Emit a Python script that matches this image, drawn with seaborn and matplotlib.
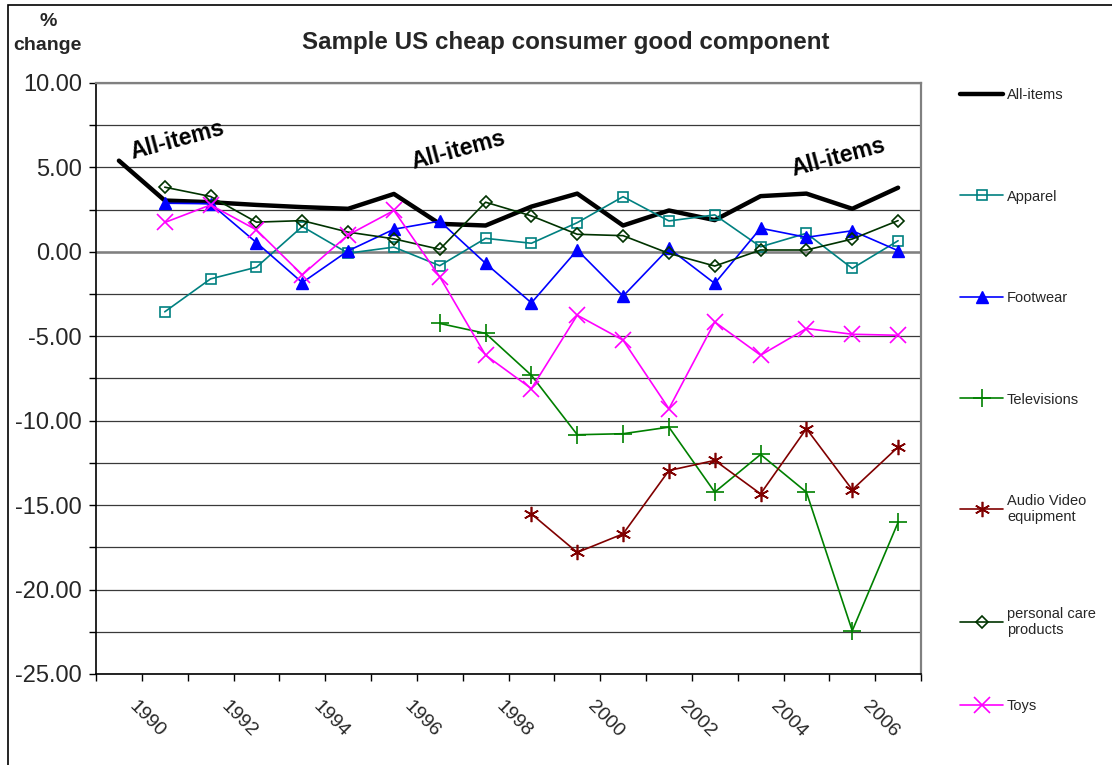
import numpy as np
import pandas as pd
import matplotlib
matplotlib.use("Agg")
import matplotlib.pyplot as plt
import seaborn as sns
from matplotlib.ticker import MultipleLocator, FormatStrFormatter, NullFormatter
from matplotlib.transforms import ScaledTranslation
from matplotlib.patches import Rectangle

# ---------------- data ----------------
years = list(range(1990, 2008))
nan = np.nan
all_items = [5.40, 3.04, 2.94, 2.78, 2.65, 2.55, 3.43, 1.66, 1.56, 2.68,
             3.45, 1.56, 2.45, 1.88, 3.30, 3.45, 2.55, 3.80]
apparel = [nan, -3.55, -1.60, -0.91, 1.50, -0.08, 0.28, -0.82, 0.80, 0.51,
           1.73, 3.27, 1.83, 2.19, 0.30, 1.10, -0.98, 0.66]
footwear = [nan, 2.88, 2.85, 0.55, -1.82, 0.06, 1.34, 1.82, -0.68, -3.02,
            0.11, -2.62, 0.21, -1.87, 1.40, 0.86, 1.25, 0.07]
televisions = [nan, nan, nan, nan, nan, nan, nan, -4.24, -4.83, -7.31,
               -10.83, -10.77, -10.38, -14.23, -12.00, -14.23, -22.44, -16.02]
audio_video = [nan, nan, nan, nan, nan, nan, nan, nan, nan, -15.52,
               -17.80, -16.70, -12.95, -12.35, -14.33, -10.47, -14.09, -11.56]
personal_care = [nan, 3.83, 3.28, 1.76, 1.85, 1.17, 0.77, 0.15, 2.94, 2.13,
                 1.04, 0.96, -0.09, -0.84, 0.11, 0.11, 0.76, 1.85]
toys = [nan, 1.74, 2.78, 1.30, -1.36, 1.00, 2.45, -1.48, -6.12, -8.10,
        -3.75, -5.23, -9.29, -4.15, -6.12, -4.54, -4.88, -4.94]

series_names = ["All-items", "Apparel", "Footwear", "Televisions",
                "Audio Video\nequipment", "personal care\nproducts", "Toys"]
label_years = list(range(1990, 2007, 2))
title = "Sample US cheap consumer good component"

# ---------------- style ----------------
sns.set_theme(style="white")
plt.rcParams["font.family"] = ["Liberation Sans", "DejaVu Sans"]
plt.rcParams["axes.unicode_minus"] = False

W, H = 1112, 765
fig = plt.figure(figsize=(W / 100, H / 100), dpi=100)
ax = fig.add_axes([96 / W, 1 - 674 / H, (921 - 96) / W, (674 - 83) / H])

specs = [
    (all_items, "#000000", None, 0, 3.2, "none", 1.0),
    (apparel, "#008080", "s", 6.5, 1.2, "none", 1.2),
    (footwear, "#0000FF", "^", 9, 1.2, "#0000FF", 1.0),
    (televisions, "#008000", "+", 13, 1.2, "#008000", 1.2),
    (audio_video, "#800000", (6, 2, 0), 11, 1.2, "#800000", 1.2),
    (personal_care, "#003300", "D", 6, 1.2, "none", 1.2),
    (toys, "#FF00FF", "x", 11, 1.2, "#FF00FF", 1.2),
]

for name, (vals, color, marker, ms, lw, mfc, mew) in zip(series_names, specs):
    df = pd.DataFrame({"year": years, "value": vals}).dropna()
    kw = dict(color=color, lw=lw, label=name, ax=ax)
    if marker is not None:
        kw.update(marker=marker, markersize=ms, markerfacecolor=mfc,
                  markeredgecolor=color, markeredgewidth=mew)
    sns.lineplot(data=df, x="year", y="value", **kw)

# ---------------- axes ----------------
ax.set_xlim(years[0] - 0.5, years[-1] + 0.5)
ax.set_ylim(-25, 10)
ax.yaxis.set_major_locator(MultipleLocator(5))
ax.yaxis.set_minor_locator(MultipleLocator(2.5))
ax.yaxis.set_major_formatter(FormatStrFormatter("%.2f"))
ax.grid(True, which="both", axis="y", color="#3a3a3a", lw=0.9)
ax.grid(False, axis="x")
ax.axhline(0, color="#808080", lw=1.8, zorder=1.5)

ax.set_xticks(np.arange(years[0] - 0.5, years[-1] + 1.0, 1.0))
ax.xaxis.set_major_formatter(NullFormatter())
ax.set_xticks(label_years, [str(y) for y in label_years], minor=True)

ax.tick_params(axis="y", which="both", direction="out", length=5, width=1,
               color="black", left=True, labelsize=17, pad=5)
ax.tick_params(axis="x", which="major", direction="out", length=5, width=1,
               color="black", bottom=True)
ax.tick_params(axis="x", which="minor", length=0, bottom=True, pad=17,
               labelsize=14)
for lab in ax.get_xticklabels(minor=True):
    lab.set_rotation(-45)
    lab.set_rotation_mode("anchor")
    lab.set_ha("left")
    lab.set_va("top")
    lab.set_transform(lab.get_transform() +
                      ScaledTranslation(0.19, 0, fig.dpi_scale_trans))

ax.set_xlabel("")
ax.set_ylabel("")
for s in ["left", "bottom"]:
    ax.spines[s].set_color("black")
    ax.spines[s].set_linewidth(1.2)
for s in ["top", "right"]:
    ax.spines[s].set_color("#808080")
    ax.spines[s].set_linewidth(1.6)

# ---------------- annotations ----------------
for x, y in [(1991.27, 6.63), (1997.4, 6.04), (2005.69, 5.63)]:
    ax.text(x, y, "All-items", rotation=15, ha="center", va="center",
            fontsize=16.5, fontweight="bold", color="black")

fig.text(566 / W, 1 - 42 / H, title, ha="center", va="center",
         fontsize=17.4, fontweight="bold")
fig.text(48 / W, 1 - 21 / H, "%", ha="center", va="center",
         fontsize=14, fontweight="bold")
fig.text(47 / W, 1 - 46 / H, "change", ha="center", va="center",
         fontsize=14, fontweight="bold")

# ---------------- legend (two blocks to mimic Excel spacing) ----------------
handles, labels = ax.get_legend_handles_labels()
leg_kw = dict(loc="upper left", bbox_transform=fig.transFigure, frameon=False,
              fontsize=10.5, handlelength=2.95, handletextpad=0.28,
              borderaxespad=0, borderpad=0)
leg1 = ax.legend(handles[:5], labels[:5], bbox_to_anchor=(960 / W, 1 - 88 / H),
                 labelspacing=6.0, **leg_kw)
ax.add_artist(leg1)
leg2 = ax.legend(handles[5:], labels[5:], bbox_to_anchor=(960 / W, 1 - 607 / H),
                 labelspacing=4.25, **leg_kw)

fig.patches.append(Rectangle((8 / W, -0.05), 1.2, 1.05 - 5 / H,
                             transform=fig.transFigure, fill=False,
                             ec="black", lw=1.2))

fig.savefig("out.png", dpi=100)
